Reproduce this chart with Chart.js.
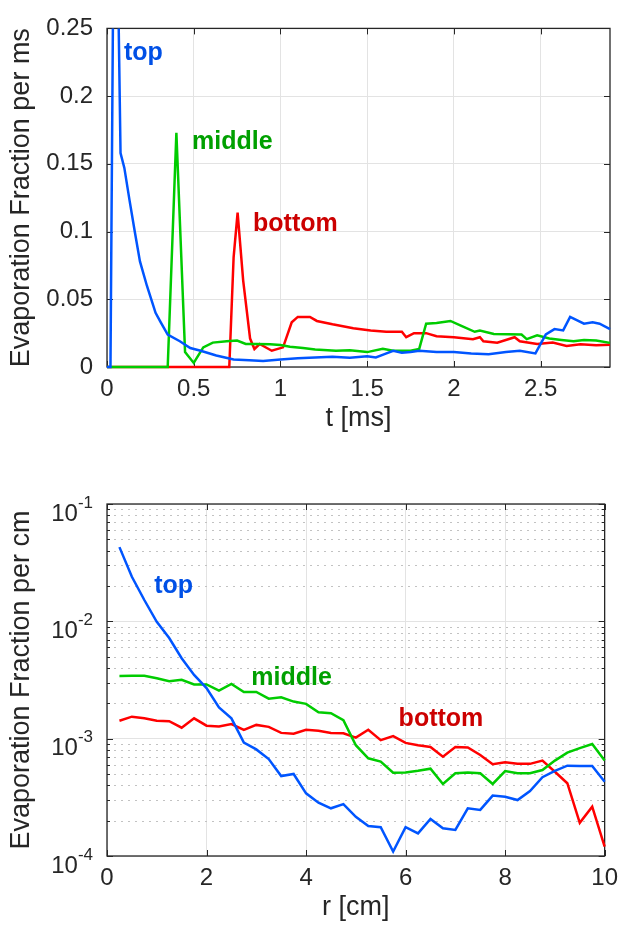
<!DOCTYPE html>
<html>
<head>
<meta charset="utf-8">
<title>Evaporation fraction</title>
<script src="https://cdn.jsdelivr.net/npm/chart.js@4.4.0/dist/chart.umd.min.js"></script>
<style>
  html, body { margin: 0; padding: 0; background: #ffffff; }
  #wrap { position: relative; width: 626px; height: 933px; }
  .panel { position: absolute; left: 0; width: 626px; }
  #panelTime { top: 0; height: 466px; }
  #panelRadius { top: 466px; height: 467px; }
</style>
</head>
<body>
<div id="wrap">
  <div class="panel" id="panelTime"><canvas id="chartTime" width="626" height="466"></canvas></div>
  <div class="panel" id="panelRadius"><canvas id="chartRadius" width="626" height="467"></canvas></div>
</div>
<script>
// ── Panel 1: evaporation fraction per ms vs time ──
const tTop = [0, 0.02, 0.045, 0.078, 0.10, 0.13, 0.16, 0.19, 0.23, 0.28, 0.31, 0.35, 0.42, 0.48, 0.54, 0.63,
  0.73, 0.82, 0.90, 1.0, 1.1, 1.2, 1.3, 1.4, 1.5, 1.55, 1.6, 1.65, 1.7, 1.75, 1.8, 1.9, 2.0, 2.1, 2.2,
  2.3, 2.38, 2.47, 2.53, 2.58, 2.63, 2.67, 2.75, 2.8, 2.84, 2.9];
const vTop = [0, 0, 0.45, 0.158, 0.147, 0.123, 0.10, 0.078, 0.060, 0.040, 0.033, 0.024, 0.019, 0.014, 0.012, 0.0085,
  0.0055, 0.005, 0.0045, 0.0055, 0.0065, 0.007, 0.0075, 0.0068, 0.008, 0.007, 0.0095, 0.012, 0.0105, 0.011, 0.012, 0.011, 0.011, 0.010, 0.0095,
  0.011, 0.012, 0.010, 0.024, 0.028, 0.027, 0.037, 0.032, 0.033, 0.032, 0.028];

const tMiddle = [0, 0.35, 0.40, 0.45, 0.50, 0.555, 0.61, 0.69, 0.75, 0.80, 0.86, 0.94, 1.0, 1.055, 1.13, 1.2,
  1.32, 1.4, 1.5, 1.59, 1.65, 1.75, 1.80, 1.84, 1.90, 1.98, 2.04, 2.12, 2.15, 2.23, 2.39, 2.42, 2.48,
  2.55, 2.62, 2.69, 2.75, 2.82, 2.9];
const vMiddle = [0, 0, 0.173, 0.011, 0.003, 0.0145, 0.018, 0.019, 0.0195, 0.017, 0.017, 0.0168, 0.0163, 0.015, 0.014, 0.013,
  0.012, 0.0123, 0.011, 0.0134, 0.012, 0.012, 0.0134, 0.032, 0.0325, 0.034, 0.0305, 0.026, 0.027, 0.0244, 0.024, 0.0206, 0.0234,
  0.021, 0.020, 0.019, 0.020, 0.0195, 0.0178];

const tBottom = [0, 0.705, 0.73, 0.753, 0.785, 0.825, 0.85, 0.88, 0.95, 1.015, 1.065, 1.10, 1.17, 1.21, 1.30, 1.42,
  1.52, 1.61, 1.70, 1.725, 1.77, 1.84, 1.90, 2.0, 2.11, 2.15, 2.17, 2.25, 2.35, 2.38, 2.48, 2.57, 2.65,
  2.73, 2.82, 2.9];
const vBottom = [0, 0, 0.081, 0.114, 0.064, 0.021, 0.0133, 0.017, 0.012, 0.0145, 0.033, 0.037, 0.037, 0.034, 0.0315, 0.0286,
  0.027, 0.026, 0.026, 0.022, 0.025, 0.025, 0.0227, 0.022, 0.0205, 0.022, 0.019, 0.018, 0.022, 0.019, 0.017, 0.018, 0.0156,
  0.0168, 0.016, 0.0165];

const timeTicks = [0, 0.5, 1, 1.5, 2, 2.5];
const rateTicks = [0, 0.05, 0.1, 0.15, 0.2, 0.25];

// ── Panel 2: evaporation fraction per cm vs radius ──
const radius = [0.25, 0.5, 0.75, 1, 1.25, 1.5, 1.75, 2, 2.25, 2.5, 2.75, 3, 3.25, 3.5, 3.75, 4, 4.25, 4.5, 4.75, 5,
  5.25, 5.5, 5.75, 6, 6.25, 6.5, 6.75, 7, 7.25, 7.5, 7.75, 8, 8.25, 8.5, 8.75, 9, 9.25, 9.5, 9.75, 10];
const rTop = [0.0429, 0.024, 0.0152, 0.0099, 0.0072, 0.00485, 0.00349, 0.0027, 0.00185, 0.00149,
  0.000925, 0.00081, 0.00067, 0.00048, 0.0005, 0.000342, 0.000285, 0.000255, 0.000277, 0.000216,
  0.00018, 0.000176, 0.000109, 0.000176, 0.000156, 0.000207, 0.000172, 0.000167, 0.000255, 0.000247,
  0.000327, 0.00032, 0.0003, 0.000358, 0.000469, 0.000531, 0.000589, 0.000585, 0.000585, 0.00043];
const rMiddle = [0.00342, 0.00343, 0.00343, 0.00327, 0.00309, 0.00317, 0.0029, 0.0029, 0.00257, 0.00293,
  0.0025, 0.0025, 0.00219, 0.00225, 0.00207, 0.00198, 0.00168, 0.00165, 0.00144, 0.00088,
  0.00068, 0.000637, 0.000513, 0.000515, 0.000533, 0.000555, 0.000411, 0.000507, 0.000515, 0.000507,
  0.000411, 0.00053, 0.000507, 0.000507, 0.00054, 0.00065, 0.00076, 0.00083, 0.0009, 0.00065];
const rBottom = [0.00142, 0.00154, 0.00149, 0.00142, 0.00141, 0.00124, 0.00149, 0.00129, 0.00127, 0.00133,
  0.00119, 0.00131, 0.00126, 0.00112, 0.0011, 0.00119, 0.00117, 0.00112, 0.00111, 0.00102,
  0.00119, 0.00097, 0.00105, 0.00092, 0.00088, 0.00085, 0.000703, 0.00085, 0.00084, 0.000726,
  0.000605, 0.00063, 0.00061, 0.00061, 0.00065, 0.000523, 0.000417, 0.000192, 0.000263, 0.00012];

const radiusTicks = [0, 2, 4, 6, 8, 10];
const decadeTicks = [1e-4, 1e-3, 1e-2, 1e-1];

// Colores estilo MATLAB
const LINE = { top: '#0055ff', middle: '#00cc00', bottom: '#ff0000' };
const TEXT = { top: '#0050e6', middle: '#00a000', bottom: '#cc0000' };
const AXIS = '#262626';
const FONT = '"Liberation Sans", Arial, Helvetica, sans-serif';

function pts(xs, ys) {
  return xs.map((x, i) => ({ x: x, y: ys[i] }));
}

function serie(label, xs, ys, key) {
  return {
    label: label,
    data: pts(xs, ys),
    borderColor: LINE[key],
    borderWidth: 2.5,
    pointRadius: 0,
    tension: 0,
    fill: false,
    clip: { left: 2, right: 2, top: 0, bottom: 3 }
  };
}

// Caja, ticks hacia dentro y rejilla menor (log)
const matlabBox = {
  id: 'matlabBox',
  beforeDatasetsDraw(chart) {
    const { ctx, chartArea: a, scales } = chart;
    const xs = scales.x, ys = scales.y;
    ctx.save();
    if (ys.type === 'logarithmic') {
      ctx.strokeStyle = '#c2c2c2';
      ctx.lineWidth = 1;
      ctx.setLineDash([2, 5]);
      for (let n = -4; n < -1; n++) {
        for (let m = 2; m <= 9; m++) {
          const py = Math.round(ys.getPixelForValue(m * Math.pow(10, n))) + 0.5;
          ctx.beginPath(); ctx.moveTo(a.left, py); ctx.lineTo(a.right, py); ctx.stroke();
        }
      }
      ctx.setLineDash([]);
      ctx.strokeStyle = AXIS;
      for (let n = -4; n < -1; n++) {
        for (let m = 2; m <= 9; m++) {
          const py = Math.round(ys.getPixelForValue(m * Math.pow(10, n))) + 0.5;
          ctx.beginPath();
          ctx.moveTo(a.left, py); ctx.lineTo(a.left + 3, py);
          ctx.moveTo(a.right, py); ctx.lineTo(a.right - 3, py);
          ctx.stroke();
        }
      }
    }
    ctx.strokeStyle = AXIS;
    ctx.lineWidth = 1.3;
    ctx.strokeRect(a.left, a.top, a.right - a.left, a.bottom - a.top);
    ctx.lineWidth = 1;
    xs.ticks.forEach(t => {
      const px = Math.round(xs.getPixelForValue(t.value)) + 0.5;
      ctx.beginPath();
      ctx.moveTo(px, a.bottom); ctx.lineTo(px, a.bottom - 6);
      ctx.moveTo(px, a.top); ctx.lineTo(px, a.top + 6);
      ctx.stroke();
    });
    ys.ticks.forEach(t => {
      const py = Math.round(ys.getPixelForValue(t.value)) + 0.5;
      ctx.beginPath();
      ctx.moveTo(a.left, py); ctx.lineTo(a.left + 6, py);
      ctx.moveTo(a.right, py); ctx.lineTo(a.right - 6, py);
      ctx.stroke();
    });
    ctx.restore();
  },
  afterDraw(chart, args, opts) {
    const { ctx, chartArea: a, scales } = chart;
    ctx.save();
    // Etiquetas 10^n
    if (scales.y.type === 'logarithmic') {
      ctx.fillStyle = AXIS;
      ctx.textBaseline = 'middle';
      ctx.textAlign = 'left';
      decadeTicks.forEach(v => {
        const py = scales.y.getPixelForValue(v);
        const ex = String(Math.round(Math.log10(v)));
        ctx.font = '17px ' + FONT;
        const we = ctx.measureText(ex).width;
        ctx.font = '24px ' + FONT;
        const wb = ctx.measureText('10').width;
        const right = a.left - 14;
        ctx.fillText('10', right - we - wb, py + 10);
        ctx.font = '17px ' + FONT;
        ctx.fillText(ex, right - we, py - 1);
      });
    }
    // Nombres de las curvas
    (opts.items || []).forEach(it => {
      ctx.font = 'bold 25px ' + FONT;
      ctx.fillStyle = TEXT[it.key];
      ctx.textAlign = 'left';
      ctx.textBaseline = 'alphabetic';
      ctx.fillText(it.text, scales.x.getPixelForValue(it.x), scales.y.getPixelForValue(it.y));
    });
    ctx.restore();
  }
};

function baseOptions(xTitle, yTitle, xTickVals, yTickVals, xHeight, padTop, titlePad) {
  return {
    responsive: false,
    animation: false,
    events: [],
    layout: { padding: { left: 0, right: 16, top: padTop, bottom: 0 } },
    plugins: { legend: { display: false }, tooltip: { enabled: false } },
    scales: {
      x: {
        type: 'linear',
        afterBuildTicks: s => { s.ticks = xTickVals.map(v => ({ value: v })); },
        afterFit: s => { s.height = xHeight; },
        grid: { color: '#e3e3e3', drawTicks: false },
        border: { display: false },
        ticks: { color: AXIS, font: { family: FONT, size: 24 }, padding: 8, maxRotation: 0,
                 callback: v => String(v) },
        title: { display: true, text: xTitle, color: AXIS, font: { family: FONT, size: 27 },
                 padding: { top: 0, bottom: titlePad } }
      },
      y: {
        afterBuildTicks: s => { s.ticks = yTickVals.map(v => ({ value: v })); },
        afterFit: s => { s.width = 107; },
        grid: { color: '#e3e3e3', drawTicks: false },
        border: { display: false },
        ticks: { color: AXIS, font: { family: FONT, size: 24 }, padding: 14,
                 callback: v => String(v) },
        title: { display: true, text: yTitle, color: AXIS, font: { family: FONT, size: 27 },
                 padding: { top: 5, bottom: 0 } }
      }
    }
  };
}

// ── Gráfica 1: tiempo ──
const optTime = baseOptions('t [ms]', 'Evaporation Fraction per ms', timeTicks, rateTicks, 99, 15, 31);
optTime.scales.x.min = 0; optTime.scales.x.max = 2.9;
optTime.scales.y.min = 0; optTime.scales.y.max = 0.25;
optTime.plugins.matlabBox = { items: [
  { text: 'top', key: 'top', x: 0.098, y: 0.2265 },
  { text: 'middle', key: 'middle', x: 0.49, y: 0.161 },
  { text: 'bottom', key: 'bottom', x: 0.842, y: 0.1005 }
] };

new Chart(document.getElementById('chartTime'), {
  type: 'line',
  data: { datasets: [
    serie('top', tTop, vTop, 'top'),
    serie('middle', tMiddle, vMiddle, 'middle'),
    serie('bottom', tBottom, vBottom, 'bottom')
  ] },
  options: optTime,
  plugins: [matlabBox]
});

// ── Gráfica 2: radio (escala log) ──
const optRadius = baseOptions('r [cm]', 'Evaporation Fraction per cm', radiusTicks, decadeTicks, 77, 38, 9);
optRadius.scales.x.min = 0; optRadius.scales.x.max = 10;
optRadius.scales.y.type = 'logarithmic';
optRadius.scales.y.min = 1e-4; optRadius.scales.y.max = 1e-1;
optRadius.scales.y.ticks.display = false;
optRadius.plugins.matlabBox = { items: [
  { text: 'top', key: 'top', x: 0.95, y: 0.0175 },
  { text: 'middle', key: 'middle', x: 2.9, y: 0.00287 },
  { text: 'bottom', key: 'bottom', x: 5.86, y: 0.00128 }
] };

new Chart(document.getElementById('chartRadius'), {
  type: 'line',
  data: { datasets: [
    serie('top', radius, rTop, 'top'),
    serie('middle', radius, rMiddle, 'middle'),
    serie('bottom', radius, rBottom, 'bottom')
  ] },
  options: optRadius,
  plugins: [matlabBox]
});
</script>
</body>
</html>
